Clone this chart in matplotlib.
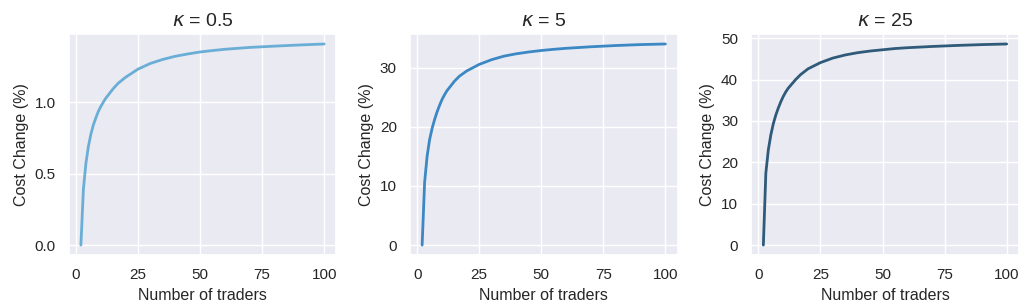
# Cost change vs number of traders for three kappa values
import numpy as np
import matplotlib.pyplot as plt
import seaborn as sns

sns.set_theme(style='darkgrid')
plt.rcParams['font.family'] = ['Liberation Sans', 'DejaVu Sans']

# values
n_traders = [2, 3, 4, 5, 6, 7, 8, 9, 10, 11, 12, 15, 17, 20, 25, 30, 35, 40, 45,
             50, 55, 60, 70, 80, 90, 100]
cost_k05 = [0.0, 0.39, 0.57, 0.69, 0.775, 0.84, 0.89, 0.935, 0.97, 1.0, 1.028, 1.095,
            1.133, 1.175, 1.232, 1.272, 1.300, 1.322, 1.338, 1.352, 1.362, 1.371,
            1.384, 1.393, 1.401, 1.408]
cost_k5 = [0.0, 10.6, 15.0, 17.8, 19.7, 21.2, 22.5, 23.6, 24.6, 25.4, 26.1, 27.7,
           28.55, 29.45, 30.55, 31.35, 31.95, 32.35, 32.65, 32.9, 33.1, 33.27,
           33.53, 33.74, 33.9, 34.0]
cost_k25 = [0.0, 17.4, 23.0, 26.6, 29.3, 31.4, 33.1, 34.6, 35.9, 37.0, 37.9, 40.0,
            41.2, 42.6, 44.1, 45.2, 45.95, 46.5, 46.9, 47.2, 47.5, 47.7, 48.0,
            48.25, 48.45, 48.6]

titles = [r'$\kappa$ = 0.5', r'$\kappa$ = 5', r'$\kappa$ = 25']
series = [cost_k05, cost_k5, cost_k25]
colors = ['#6aaed6', '#3b88c4', '#2f5a7a']
yticks = [[0.0, 0.5, 1.0], [0, 10, 20, 30], [0, 10, 20, 30, 40, 50]]

fig, axes = plt.subplots(1, 3, figsize=(10.26, 3.03), dpi=100)
fig.subplots_adjust(left=0.067, right=0.993, bottom=0.158, top=0.888, wspace=0.275)

for ax, y, title, c, yt in zip(axes, series, titles, colors, yticks):
    ax.plot(n_traders, y, color=c, linewidth=2)
    ax.set_title(title, fontsize=14)
    ax.set_xlabel('Number of traders', fontsize=11.5)
    ax.set_ylabel('Cost Change (%)', fontsize=11.5)
    ax.set_xticks([0, 25, 50, 75, 100])
    ax.set_yticks(yt)
    ax.tick_params(labelsize=11)

axes[0].yaxis.set_major_formatter(plt.FormatStrFormatter('%.1f'))

plt.savefig('out.png', dpi=100)
